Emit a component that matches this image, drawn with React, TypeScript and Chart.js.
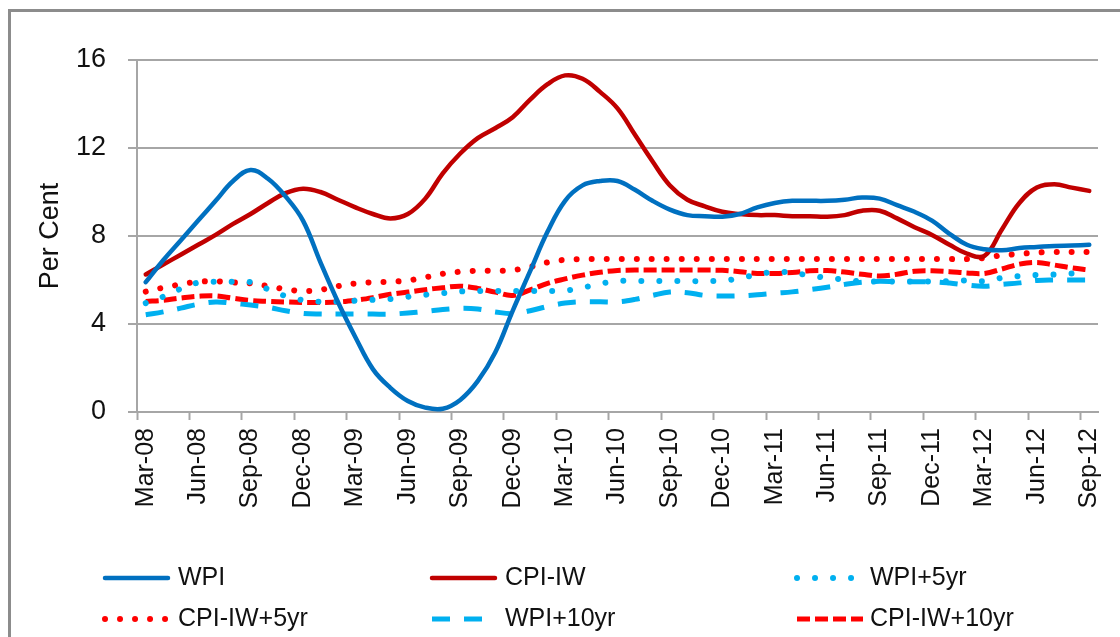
import React, { useEffect, useRef } from 'react';
import { Chart, registerables } from 'chart.js';

Chart.register(...registerables);

const labels = [
  'Mar-08', 'Apr-08', 'May-08', 'Jun-08', 'Jul-08', 'Aug-08', 'Sep-08', 'Oct-08', 'Nov-08', 'Dec-08',
  'Jan-09', 'Feb-09', 'Mar-09', 'Apr-09', 'May-09', 'Jun-09', 'Jul-09', 'Aug-09', 'Sep-09', 'Oct-09', 'Nov-09', 'Dec-09',
  'Jan-10', 'Feb-10', 'Mar-10', 'Apr-10', 'May-10', 'Jun-10', 'Jul-10', 'Aug-10', 'Sep-10', 'Oct-10', 'Nov-10', 'Dec-10',
  'Jan-11', 'Feb-11', 'Mar-11', 'Apr-11', 'May-11', 'Jun-11', 'Jul-11', 'Aug-11', 'Sep-11', 'Oct-11', 'Nov-11', 'Dec-11',
  'Jan-12', 'Feb-12', 'Mar-12', 'Apr-12', 'May-12', 'Jun-12', 'Jul-12', 'Aug-12', 'Sep-12',
];

const wpi = [
  5.9, 6.9, 7.8, 8.7, 9.6, 10.5, 11.0, 10.6, 9.8, 8.7,
  6.8, 5.0, 3.4, 1.95, 1.1, 0.5, 0.2, 0.15, 0.55, 1.4,
  2.7, 4.6, 6.4, 8.2, 9.6, 10.3, 10.5, 10.5, 10.1, 9.6,
  9.2, 8.95, 8.9, 8.88, 9.0, 9.3, 9.5, 9.6, 9.6, 9.6,
  9.65, 9.75, 9.7, 9.4, 9.1, 8.7, 8.1, 7.6, 7.4, 7.35,
  7.45, 7.5, 7.55, 7.57, 7.6,
];

const cpiIw = [
  6.25, 6.7, 7.15, 7.6, 8.05, 8.55, 9.0, 9.5, 9.95, 10.15,
  10.0, 9.65, 9.3, 9.0, 8.8, 9.0, 9.7, 10.85, 11.75, 12.45,
  12.9, 13.4, 14.2, 14.9, 15.3, 15.15, 14.55, 13.8, 12.6, 11.4,
  10.3, 9.65, 9.35, 9.1, 9.0, 8.95, 8.95, 8.9, 8.9, 8.88,
  8.95, 9.15, 9.15, 8.8, 8.4, 8.05, 7.6, 7.2, 7.1, 8.3,
  9.5, 10.2, 10.35, 10.2, 10.05,
];

const wpi5yr = [
  4.95, 5.24, 5.6, 5.88, 5.92, 5.92, 5.9, 5.58, 5.27, 5.08,
  5.01, 5.02, 5.06, 5.1, 5.14, 5.24, 5.33, 5.4, 5.48, 5.5,
  5.5, 5.5, 5.5, 5.5, 5.52, 5.65, 5.83, 5.95, 5.95, 5.95,
  5.95, 5.95, 5.95, 5.97, 6.08, 6.25, 6.37, 6.33, 6.2, 6.1,
  6.02, 5.93, 5.93, 5.93, 5.93, 5.93, 5.95, 5.98, 5.95, 6.1,
  6.18, 6.23, 6.25, 6.3, 6.25,
];

const cpiIw5yr = [
  5.47, 5.65, 5.8, 5.92, 5.94, 5.89, 5.85, 5.72, 5.58, 5.5,
  5.55, 5.72, 5.84, 5.9, 5.92, 5.98, 6.12, 6.28, 6.38, 6.42,
  6.42, 6.45, 6.6, 6.8, 6.92, 6.95, 6.95, 6.95, 6.95, 6.95,
  6.95, 6.95, 6.95, 6.95, 6.95, 6.95, 6.95, 6.95, 6.95, 6.95,
  6.95, 6.95, 6.95, 6.95, 6.95, 6.95, 6.95, 6.95, 7.0, 7.12,
  7.18, 7.25, 7.27, 7.27, 7.27,
];

const wpi10yr = [
  4.42, 4.55, 4.72, 4.9, 5.0, 4.94, 4.86, 4.76, 4.6, 4.48,
  4.45, 4.45, 4.45, 4.45, 4.45, 4.5, 4.57, 4.66, 4.71, 4.68,
  4.55, 4.47, 4.6, 4.8, 4.95, 5.01, 5.01, 5.01, 5.12, 5.3,
  5.45, 5.42, 5.3, 5.27, 5.28, 5.33, 5.4, 5.46, 5.56, 5.67,
  5.8, 5.9, 5.94, 5.92, 5.92, 5.92, 5.86, 5.77, 5.72, 5.8,
  5.87, 5.98, 6.0, 6.0, 6.0,
];

const cpiIw10yr = [
  5.02, 5.08, 5.18, 5.26, 5.28, 5.17, 5.07, 5.03, 5.0, 4.98,
  4.98, 5.0, 5.08, 5.2, 5.35, 5.45, 5.56, 5.65, 5.72, 5.62,
  5.45, 5.3, 5.55, 5.85, 6.05, 6.22, 6.35, 6.43, 6.45, 6.45,
  6.45, 6.45, 6.45, 6.44, 6.38, 6.3, 6.3, 6.34, 6.42, 6.43,
  6.36, 6.26, 6.18, 6.26, 6.4, 6.42, 6.38, 6.32, 6.3, 6.5,
  6.72, 6.8, 6.68, 6.55, 6.45,
];

const yTicks = [0, 4, 8, 12, 16];
const seriesNames = ['WPI', 'CPI-IW', 'WPI+5yr', 'CPI-IW+5yr', 'WPI+10yr', 'CPI-IW+10yr'];

const FONT = "'Liberation Sans', Arial, sans-serif";
const GRID = '#a6a6a6';
const TEXT = '#111111';

export default function App() {
  const ref = useRef<HTMLCanvasElement>(null);

  useEffect(() => {
    if (!ref.current) return;
    const styles = [
      { data: wpi, color: '#0070C0', width: 4.5, dash: [] as number[], cap: 'round', len: 63 },
      { data: cpiIw, color: '#C00000', width: 4.5, dash: [] as number[], cap: 'round', len: 63 },
      { data: wpi5yr, color: '#00B0F0', width: 6, dash: [0.01, 18], cap: 'round', len: 56 },
      { data: cpiIw5yr, color: '#FF0000', width: 6, dash: [0.01, 15], cap: 'round', len: 61 },
      { data: wpi10yr, color: '#00B0F0', width: 5, dash: [18, 14], cap: 'butt', len: 50 },
      { data: cpiIw10yr, color: '#FF0000', width: 5, dash: [13, 5], cap: 'butt', len: 66 },
    ];
    const symX = [105, 432, 797];
    const txtX = [178, 505, 870];
    const rowY = [578, 619];

    const legendPlugin = {
      id: 'gridLegend',
      afterDraw(chart: any) {
        const ctx = chart.ctx as CanvasRenderingContext2D;
        ctx.save();
        styles.forEach((s, i) => {
          const col = i % 3;
          const row = Math.floor(i / 3);
          const y = rowY[row];
          ctx.beginPath();
          ctx.strokeStyle = s.color;
          ctx.lineWidth = s.width;
          ctx.lineCap = s.cap as CanvasLineCap;
          ctx.setLineDash(s.dash);
          ctx.moveTo(symX[col], y);
          ctx.lineTo(symX[col] + s.len, y);
          ctx.stroke();
          ctx.setLineDash([]);
          ctx.fillStyle = TEXT;
          ctx.font = `25px ${FONT}`;
          ctx.textBaseline = 'middle';
          ctx.textAlign = 'left';
          ctx.fillText(seriesNames[i], txtX[col], y);
        });
        ctx.restore();
      },
    };

    const chart = new Chart(ref.current, {
      type: 'line',
      data: {
        labels,
        datasets: styles.map((s, i) => ({
          label: seriesNames[i],
          data: s.data,
          borderColor: s.color,
          backgroundColor: s.color,
          borderWidth: s.width,
          borderDash: s.dash,
          borderCapStyle: s.cap as CanvasLineCap,
          borderJoinStyle: 'round' as CanvasLineJoin,
          pointRadius: 0,
          tension: 0.4,
          fill: false,
        })),
      },
      options: {
        responsive: false,
        animation: false,
        layout: { padding: { left: 0, right: 22, top: 60, bottom: 85 } },
        plugins: { legend: { display: false }, tooltip: { enabled: false } },
        scales: {
          x: {
            type: 'category',
            offset: true,
            grid: {
              display: true,
              drawOnChartArea: false,
              drawTicks: true,
              tickLength: 8,
              offset: true,
              tickWidth: 2,
              tickColor: (c: any) => (typeof c.index === 'number' && c.index % 3 === 0 ? GRID : 'rgba(0,0,0,0)'),
            },
            border: { display: true, color: GRID, width: 2 },
            ticks: {
              autoSkip: false,
              maxRotation: 90,
              minRotation: 90,
              padding: 8,
              color: TEXT,
              font: { family: FONT, size: 25 },
              callback: (_v: any, i: number) => (i % 3 === 0 ? labels[i] : ''),
            },
            afterFit: (s: any) => {
              s.height = 140;
              s.paddingLeft = 0;
              s.paddingRight = 0;
            },
          },
          y: {
            min: yTicks[0],
            max: yTicks[yTicks.length - 1],
            ticks: {
              stepSize: 4,
              padding: 22,
              color: TEXT,
              font: { family: FONT, size: 27 },
            },
            grid: { color: GRID, lineWidth: 2, tickLength: 9, drawTicks: true },
            border: { display: true, color: GRID, width: 2 },
            title: {
              display: true,
              text: 'Per Cent',
              color: TEXT,
              font: { family: FONT, size: 27 },
              padding: { top: 34, bottom: 0 },
            },
            afterFit: (s: any) => {
              s.width = 137;
            },
          },
        },
      },
      plugins: [legendPlugin],
    });
    return () => chart.destroy();
  }, []);

  return (
    <div style={{ position: 'fixed', left: 0, top: 0, width: 1120, height: 637, overflow: 'hidden', background: '#fff' }}>
      <div
        style={{
          position: 'absolute',
          left: 8,
          top: 9,
          width: 1200,
          height: 700,
          border: '3px solid #8c8c8c',
          boxSizing: 'border-box',
        }}
      />
      <canvas ref={ref} width={1120} height={637} style={{ position: 'absolute', left: 0, top: 0 }} />
    </div>
  );
}
